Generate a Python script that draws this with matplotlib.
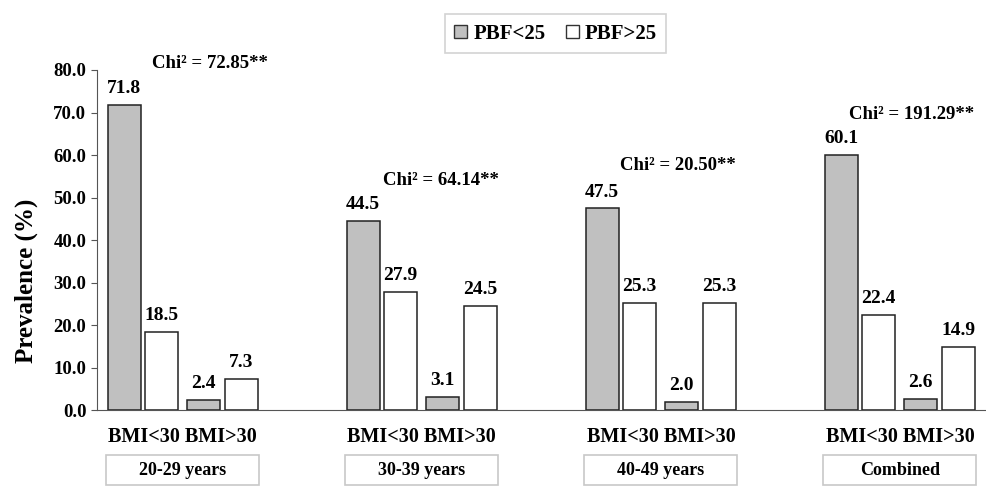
import matplotlib.pyplot as plt
from matplotlib.patches import Patch, Rectangle

plt.rcParams['font.family'] = ['Liberation Serif', 'DejaVu Serif']
plt.rcParams['font.weight'] = 'bold'

groups = ['20-29 years', '30-39 years', '40-49 years', 'Combined']
bmi_labels = ['BMI<30', 'BMI>30']
# values per group: [BMI<30 PBF<25, BMI<30 PBF>25, BMI>30 PBF<25, BMI>30 PBF>25]
pbf_low_bmi_low = [71.8, 44.5, 47.5, 60.1]
pbf_high_bmi_low = [18.5, 27.9, 25.3, 22.4]
pbf_low_bmi_high = [2.4, 3.1, 2.0, 2.6]
pbf_high_bmi_high = [7.3, 24.5, 25.3, 14.9]
chi_values = ['72.85', '64.14', '20.50', '191.29']

fig = plt.figure(figsize=(9.87, 4.86), dpi=100)
ax = fig.add_axes([0.098, 0.156, 0.9, 0.7])

w = 0.138
offs = [-0.245, -0.09, 0.086, 0.245]
series = [pbf_low_bmi_low, pbf_high_bmi_low, pbf_low_bmi_high, pbf_high_bmi_high]
colors = ['#c0c0c0', 'white', '#c0c0c0', 'white']
for s, off, c in zip(series, offs, colors):
    xs = [g + off for g in range(len(groups))]
    ax.bar(xs, s, width=w, color=c, edgecolor='#222222', linewidth=1.1)
    for x, v in zip(xs, s):
        ax.text(x, v + 1.8, f'{v:.1f}', ha='center', va='bottom', fontsize=14, fontweight='bold')

chi_pos = [(0.113, 81.6), (1.08, 54.1), (2.07, 57.6), (3.05, 69.6)]
for (cx, cy), cv in zip(chi_pos, chi_values):
    ax.text(cx, cy, 'Chi² = ' + cv + '**', ha='center', va='center', fontsize=13.5, fontweight='bold',
            clip_on=False)

ax.set_xlim(-0.36, 3.356)
ax.set_ylim(0, 80)
ax.set_yticks(range(0, 81, 10))
ax.set_yticklabels([f'{t:.1f}' for t in range(0, 81, 10)], fontsize=13.5, fontweight='bold')
ax.set_xticks([])
ax.set_ylabel('Prevalence (%)', fontsize=18, fontweight='bold')
ax.yaxis.set_label_coords(-0.066, 0.38)
for side in ['top', 'right']:
    ax.spines[side].set_visible(False)
ax.spines['left'].set_color('#555555')
ax.spines['bottom'].set_color('#555555')
ax.tick_params(axis='y', color='#555555', length=4)

box_w = 0.64
for g, name in enumerate(groups):
    ax.text(g, -6.4, ' '.join(bmi_labels), ha='center', va='center', fontsize=14.5, fontweight='bold', clip_on=False)
    ax.add_patch(Rectangle((g - box_w / 2, -17.6), box_w, 7.0, facecolor='white', edgecolor='#c8c8c8',
                           lw=1.2, clip_on=False))
    ax.text(g, -14.1, name, ha='center', va='center', fontsize=13, fontweight='bold', clip_on=False)

handles = [Patch(facecolor='#c0c0c0', edgecolor='#333333', label='PBF<25'),
           Patch(facecolor='white', edgecolor='#333333', label='PBF>25')]
leg = fig.legend(handles=handles, loc='upper center', bbox_to_anchor=(0.563, 0.992), ncol=2,
                 frameon=True, fancybox=False, edgecolor='#c8c8c8',
                 handlelength=0.6, handleheight=0.6, handletextpad=0.3, columnspacing=1.0,
                 borderpad=0.45, prop={'weight': 'bold', 'size': 15})
leg.get_frame().set_linewidth(1.2)

fig.savefig('out.png', dpi=100)
